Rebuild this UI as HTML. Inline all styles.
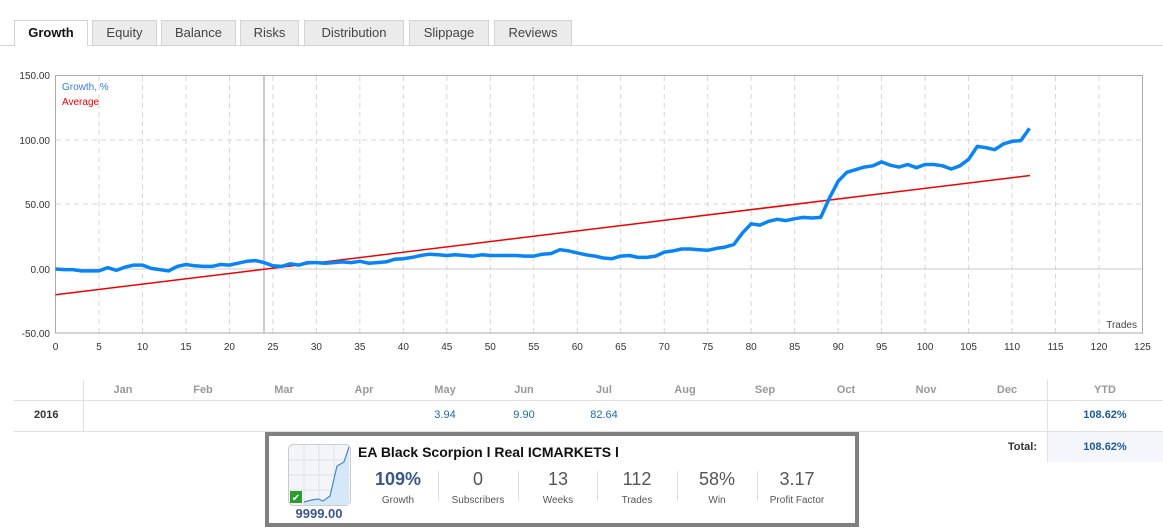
<!DOCTYPE html>
<html><head><meta charset="utf-8"><style>
body{margin:0;width:1163px;height:530px;background:#fff;font-family:"Liberation Sans",Tahoma,sans-serif;position:relative;overflow:hidden}
.tab{position:absolute;top:20px;height:25px;background:#ebebeb;border:1px solid #d4d4d4;border-bottom:none;font-size:13px;color:#444;text-align:center;line-height:24px;box-sizing:border-box}
.tab.on{background:#fff;color:#111;font-weight:bold;height:26px}
.abs{position:absolute}
.mh{position:absolute;top:384px;font-size:11px;font-weight:bold;color:#999;width:60px;margin-left:-30px;text-align:center}
.mv{position:absolute;top:409px;font-size:11px;color:#1e6aa8;width:60px;margin-left:-30px;text-align:center}
.sn{position:absolute;top:469px;font-size:18px;color:#555;width:80px;margin-left:-40px;text-align:center}
.sl{position:absolute;top:495px;font-size:10px;color:#555;width:80px;margin-left:-40px;text-align:center}
.sep{position:absolute;top:471px;width:1px;height:30px;background:#ddd}
</style></head><body>
<div class="abs" style="left:0;top:45px;width:1163px;height:1px;background:#d4d4d4"></div>
<div class="tab on" style="left:14px;width:74px">Growth</div>
<div class="tab" style="left:92px;width:65px">Equity</div>
<div class="tab" style="left:161px;width:75px">Balance</div>
<div class="tab" style="left:240px;width:59px">Risks</div>
<div class="tab" style="left:304px;width:100px">Distribution</div>
<div class="tab" style="left:409px;width:80px">Slippage</div>
<div class="tab" style="left:494px;width:78px">Reviews</div>

<svg class="abs" style="left:0;top:0" width="1163" height="360" font-family="Liberation Sans, sans-serif">
<g id="grid" stroke="#d6d6d6" stroke-dasharray="5,4"></g>
<line x1="55.5" y1="269" x2="1142.5" y2="269" stroke="#ccc"/>
<line x1="264" y1="75" x2="264" y2="333" stroke="#999"/>
<rect x="55.5" y="75.5" width="1087" height="257.5" fill="none" stroke="#aaa"/>
<g font-size="10" fill="#333" text-anchor="end">
<text x="50" y="79">150.00</text><text x="50" y="144">100.00</text><text x="50" y="208">50.00</text><text x="50" y="273">0.00</text><text x="50" y="337">-50.00</text>
</g>
<g id="xl" font-size="10" fill="#333" text-anchor="middle"></g>
<text x="62" y="90" font-size="10" fill="#3a7bd5">Growth, %</text>
<text x="62" y="105" font-size="10" fill="#e00">Average</text>
<text x="1137" y="328" font-size="10" fill="#444" text-anchor="end">Trades</text>
<line x1="55.5" y1="294.8" x2="1030" y2="175.5" stroke="#e00" stroke-width="1.5"/>
<polyline id="g" fill="none" stroke="#0a84f5" stroke-width="3.5" stroke-linejoin="round"/>
</svg>
<script>
var X=function(v){return 55.5+v*8.696},Y=function(v){return 269-v*1.29};
var d=[0,-0.5,-0.5,-1.5,-1.5,-1.5,1,-1,1.5,3,3,0.5,-0.5,-1.5,2,3.5,2.5,2,2,3.5,3,4.5,6,6.5,5,2.5,2,4,3,5,5,4.5,5,5.5,5,6,4.5,5,5.5,7.5,8,9,10.5,11.5,11,10.5,11,10.5,10,11,10.5,10.5,10.5,10.5,10,10,11.5,12,15,14,12.5,11,10,8.5,8,10,10.5,9,9,10,13,14,15.5,15.5,15,14.5,16,17,19,28,35,34,37,38.5,37.5,39,40,39.5,40,55,68,75,77,79,80,83,80.5,79,81,78.5,81,81,80,77.5,80,85,95,94,92.5,97,99,99.5,109];
document.getElementById('g').setAttribute('points',d.map(function(v,i){return X(i).toFixed(1)+','+Y(v).toFixed(1)}).join(' '));
var g='',l='';
for(var i=5;i<125;i+=5){g+='<line x1="'+X(i)+'" y1="76" x2="'+X(i)+'" y2="333"/>';}
[140,204].forEach(function(y){g+='<line x1="56" y1="'+y+'" x2="1142" y2="'+y+'"/>'});
for(var i=0;i<=125;i+=5){l+='<text x="'+X(i)+'" y="350">'+i+'</text>';}
document.getElementById('grid').innerHTML=g;document.getElementById('xl').innerHTML=l;
</script>

<div class="abs" style="left:83px;top:380px;width:1px;height:51px;background:#e0e0e0"></div>
<div class="abs" style="left:1047px;top:380px;width:1px;height:82px;background:#e0e0e0"></div>
<div class="abs" style="left:14px;top:400px;width:1149px;height:1px;background:#e0e0e0"></div>
<div class="abs" style="left:14px;top:431px;width:1149px;height:1px;background:#e0e0e0"></div>
<div class="mh" style="left:123px">Jan</div><div class="mh" style="left:203px">Feb</div><div class="mh" style="left:284px">Mar</div><div class="mh" style="left:364px">Apr</div><div class="mh" style="left:445px">May</div><div class="mh" style="left:524px">Jun</div><div class="mh" style="left:604px">Jul</div><div class="mh" style="left:685px">Aug</div><div class="mh" style="left:765px">Sep</div><div class="mh" style="left:846px">Oct</div><div class="mh" style="left:926px">Nov</div><div class="mh" style="left:1007px">Dec</div><div class="mh" style="left:1105px">YTD</div>
<div class="abs" style="left:34px;top:409px;font-size:11px;font-weight:bold;color:#333">2016</div>
<div class="mv" style="left:445px">3.94</div><div class="mv" style="left:524px">9.90</div><div class="mv" style="left:604px">82.64</div>
<div class="mv" style="left:1105px;font-weight:bold;color:#1e5a96">108.62%</div>
<div class="abs" style="left:1048px;top:432px;width:115px;height:30px;background:#f4f6fb"></div>
<div class="abs" style="left:960px;top:441px;width:77px;text-align:right;font-size:11px;font-weight:bold;color:#333">Total:</div>
<div class="mv" style="left:1105px;top:441px;font-weight:bold;color:#1e5a96">108.62%</div>

<div class="abs" style="left:265px;top:432px;width:586px;height:87px;border:4px solid #808080;background:#fff"></div>
<svg class="abs" style="left:288px;top:444px" width="63" height="62">
<rect x="0.5" y="0.5" width="62" height="61" rx="5" fill="#f3f5f8" stroke="#ccc"/>
<g stroke="#dde3ea"><line x1="16" y1="1" x2="16" y2="61"/><line x1="31" y1="1" x2="31" y2="61"/><line x1="46" y1="1" x2="46" y2="61"/><line x1="1" y1="16" x2="62" y2="16"/><line x1="1" y1="31" x2="62" y2="31"/><line x1="1" y1="46" x2="62" y2="46"/></g>
<polygon points="16,58 24,56 30,55 35,57 42,52 49,22 56,18 61,3 61,61 16,61" fill="#d4e8f8"/>
<polyline points="16,58 24,56 30,55 35,57 42,52 49,22 56,18 61,3" fill="none" stroke="#4a86c8" stroke-width="1.2"/>
<rect x="2" y="47" width="12" height="12" fill="#2a9d2a"/><text x="8" y="57" font-size="10" fill="#fff" text-anchor="middle">✔</text>
</svg>
<div class="abs" style="left:283px;top:506px;width:72px;text-align:center;font-size:13px;font-weight:bold;color:#3b5687">9999.00</div>
<div class="abs" style="left:358px;top:444px;font-size:14px;font-weight:bold;color:#111">EA Black Scorpion l Real ICMARKETS l</div>
<div class="sn" style="left:398px;font-weight:bold;color:#3b5687">109%</div><div class="sl" style="left:398px">Growth</div>
<div class="sep" style="left:438px"></div>
<div class="sn" style="left:478px">0</div><div class="sl" style="left:478px">Subscribers</div>
<div class="sep" style="left:518px"></div>
<div class="sn" style="left:558px">13</div><div class="sl" style="left:558px">Weeks</div>
<div class="sep" style="left:597px"></div>
<div class="sn" style="left:637px">112</div><div class="sl" style="left:637px">Trades</div>
<div class="sep" style="left:677px"></div>
<div class="sn" style="left:717px">58%</div><div class="sl" style="left:717px">Win</div>
<div class="sep" style="left:757px"></div>
<div class="sn" style="left:797px">3.17</div><div class="sl" style="left:797px">Profit Factor</div>
</body></html>
